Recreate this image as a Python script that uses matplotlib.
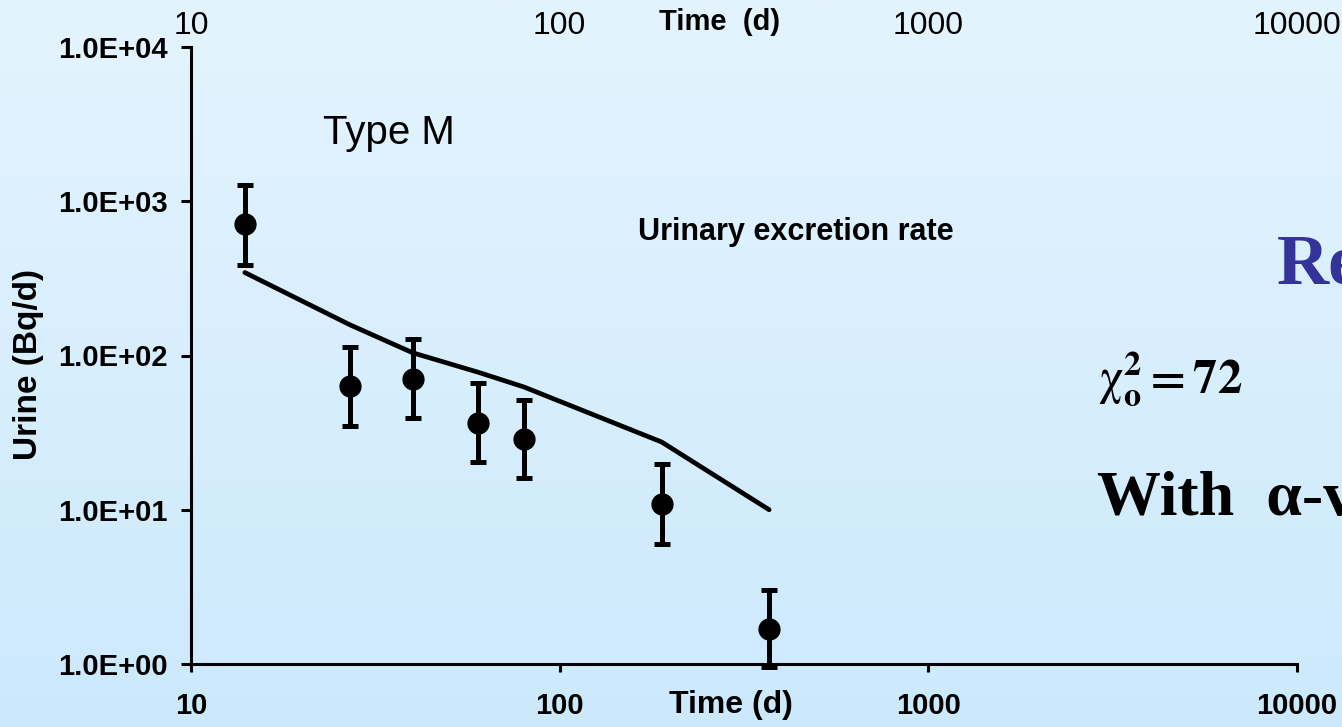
import numpy as np
import matplotlib
matplotlib.use('Agg')
import matplotlib.pyplot as plt
from matplotlib.ticker import FixedLocator, FuncFormatter, NullLocator

plt.rcParams['font.family'] = ['Liberation Sans', 'DejaVu Sans']
plt.rcParams['mathtext.fontset'] = 'stix'

# measured urinary excretion (Bq/d) with error bounds
days = [14, 27, 40, 60, 80, 189, 370]
urine = [712, 63.4, 70.4, 36.5, 28.7, 10.9, 1.69]
urine_hi = [1274, 113.6, 128, 66.3, 51.5, 19.8, 3.02]
urine_lo = [386, 34.9, 39.4, 20.4, 16.1, 6.0, 0.95]

# model prediction, type M
model_days = [14, 27, 40, 60, 80, 189, 370]
model_urine = [345, 158, 104, 78, 62.5, 27.5, 10.0]

x_ticks = [10, 100, 1000, 10000]
y_ticks = [1, 10, 100, 1000, 10000]

fig = plt.figure(figsize=(13.42, 7.27), dpi=100)

# light blue backdrop, slightly darker toward the bottom
bg = fig.add_axes([0, 0, 1, 1], zorder=-10)
top_c = np.array([228, 244, 254]) / 255
bot_c = np.array([204, 233, 252]) / 255
t = np.linspace(0, 1, 256)[:, None, None]
grad = top_c * (1 - t) + bot_c * t
bg.imshow(grad, aspect='auto', extent=[0, 1, 0, 1])
bg.axis('off')

ax = fig.add_axes([191 / 1342, 1 - 664 / 727, 1106 / 1342, 617 / 727])
ax.patch.set_alpha(0)
ax.set_xscale('log')
ax.set_yscale('log')
ax.set_xlim(10, 10000)
ax.set_ylim(1, 10000)

ax.plot(model_days, model_urine, color='black', lw=3.4, solid_capstyle='round',
        solid_joinstyle='round', zorder=3)

yerr = [np.array(urine) - np.array(urine_lo), np.array(urine_hi) - np.array(urine)]
ax.errorbar(days, urine, yerr=yerr, fmt='o', color='black', ms=15, elinewidth=3.6,
            capsize=6, capthick=3.6, zorder=4, clip_on=False)

for side in ['top', 'right']:
    ax.spines[side].set_visible(False)
for side in ['left', 'bottom']:
    ax.spines[side].set_linewidth(2.2)

ax.xaxis.set_major_locator(FixedLocator(x_ticks))
ax.xaxis.set_minor_locator(NullLocator())
ax.yaxis.set_major_locator(FixedLocator(y_ticks))
ax.yaxis.set_minor_locator(NullLocator())
ax.xaxis.set_major_formatter(FuncFormatter(lambda v, p: f'{v:.0f}'))
ax.yaxis.set_major_formatter(FuncFormatter(lambda v, p: f'{v:.1E}'))
ax.tick_params(axis='x', length=6, width=2.2, pad=14, labelsize=21)
ax.tick_params(axis='y', length=7, width=2.2, pad=10, labelsize=21)
for lab in ax.get_xticklabels() + ax.get_yticklabels():
    lab.set_fontweight('bold')

ax.set_xlabel('Time (d)', fontsize=23, fontweight='bold')
ax.xaxis.set_label_coords(0.488, -0.042)
ax.set_ylabel('Urine (Bq/d)', fontsize=24, fontweight='bold')
ax.yaxis.set_label_coords(-0.133, 0.485)

# top axis: labels only
sec = ax.secondary_xaxis('top')
sec.xaxis.set_major_locator(FixedLocator(x_ticks))
sec.xaxis.set_minor_locator(NullLocator())
sec.xaxis.set_major_formatter(FuncFormatter(lambda v, p: f'{v:.0f}'))
sec.tick_params(axis='x', length=0, pad=4, labelsize=23)
sec.spines['top'].set_visible(False)
ax.text(0.478, 1.027, 'Time  (d)', transform=ax.transAxes, fontsize=21,
        fontweight='bold', ha='center', va='baseline')

ax.text(0.179, 0.86, 'Type M', transform=ax.transAxes, fontsize=29,
        ha='center', va='center')
ax.text(0.547, 0.70, 'Urinary excretion rate', transform=ax.transAxes,
        fontsize=22, fontweight='bold', ha='center', va='center')

fig.text(1277 / 1342, 1 - 283 / 727, 'Re', fontsize=52, fontweight='bold',
         family='Liberation Serif', color='#333399', ha='left', va='baseline')
fig.text(1098 / 1342, 1 - 393 / 727,
         r'$\mathrm{\chi}^{\mathbf{2}}_{\mathbf{o}}\mathbf{=72}$',
         fontsize=35, ha='left', va='baseline')
fig.text(1097 / 1342, 1 - 515 / 727, 'With  α-v', fontsize=46, fontweight='bold',
         family='Liberation Serif', ha='left', va='baseline')

fig.savefig('out.png', dpi=100)
